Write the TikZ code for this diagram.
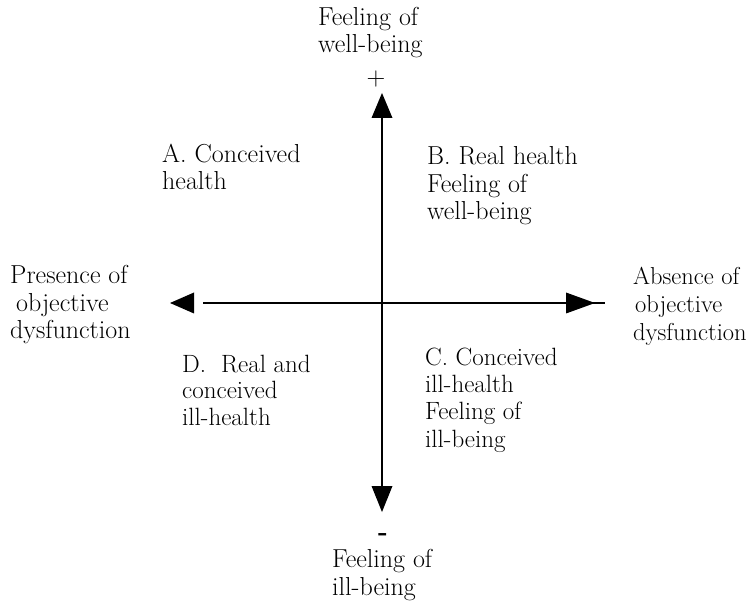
\documentclass[tikz,border=0pt]{standalone}
\usepackage{fontspec}
\begin{document}
\begin{tikzpicture}[x=1pt,y=-1pt,
  % multi-line labels are placed by the baseline of their last line
  lab/.style={anchor=base west, inner sep=0pt, align=left,
    font=\fontsize{26}{27.5}\selectfont},
  sign/.style={anchor=center, inner sep=0pt, font=\fontsize{26}{27.5}\selectfont},
  axis/.style={line width=1.8pt},
  head/.style={fill=black}]
\useasboundingbox (0,0) rectangle (748,604);

% axis lines
\coordinate (lstart) at (203,303);
\coordinate (rend)   at (605,303);
\coordinate (ttop)   at (382,112);
\coordinate (bbot)   at (382,490);
\draw[axis] (lstart) -- (rend);
\draw[axis] (ttop) -- (bbot);

% arrow heads
\fill[head] (170,303) -- (194,292.5) -- (194,313.5) -- cycle;
\fill[head] (595,303) -- (566,292.5) -- (566,313.5) -- cycle;
\fill[head] (382,93) -- (371.5,118) -- (392.5,118) -- cycle;
\fill[head] (382,512) -- (371.5,486) -- (392.5,486) -- cycle;

% axis end labels
\node[lab] (top)    at (318,53)  {Feeling of\\well-being};
\node[sign] (plus)  at (376,79)  {+};
\node[sign] (minus) at (383,537) {\bfseries -};
\node[lab] (bottom) at (332,595) {Feeling of\\ill-being};
\node[lab] (left)   at (10,339)  {Presence of\\\hspace{6pt}objective\\dysfunction};
\node[lab,font=\fontsize{24.5}{28}\selectfont] (right) at (633,341)
  {Absence of\\\hspace{2pt}objective\\dysfunction};

% quadrant labels
\node[lab] (qa) at (162,190) {A. Conceived\\health};
\node[lab] (qb) at (427,220) {B. Real health\\Feeling of\\well-being};
\node[lab,font=\fontsize{25}{27.3}\selectfont] (qc) at (425,447)
  {C. Conceived\\ill-health\\Feeling of\\ill-being};
\node[lab,font=\fontsize{25}{26.5}\selectfont] (qd) at (182,425)
  {D.\ \ Real and\\conceived\\ill-health};
\end{tikzpicture}
\end{document}
